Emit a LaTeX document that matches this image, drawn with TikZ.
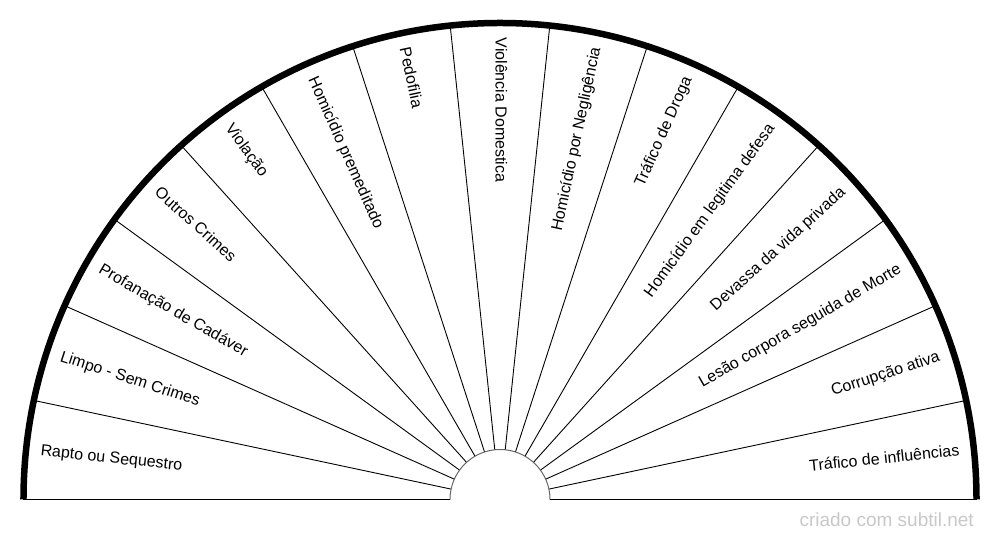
\documentclass[tikz,border=0pt]{standalone}
\usepackage{fontspec}
\setmainfont{Liberation Sans}
\usepackage{xcolor}
\usepackage{tikz}
\usetikzlibrary{positioning,calc}

\definecolor{baseline}{HTML}{808080}
\definecolor{hubline}{HTML}{666666}
\definecolor{markgray}{HTML}{C8C8C8}

\begin{document}
\begin{tikzpicture}[x=1pt, y=1pt,
        wheellabel/.style={inner sep=0pt, font=\fontsize{16}{19}\selectfont, transform shape},
        spoke/.style={black, line width=0.9pt}]
        \useasboundingbox (-500,-40.5) rectangle (500,499.5);
        % spokes between the hub and the rim
        \foreach \a in {12,24,...,168}
            \draw[spoke] (\a:50) -- (\a:476.5);
        \draw[baseline, line width=1.3pt] (-476.5,0) coordinate (rimL) -- (-50,0) coordinate (hubL);
        \draw[baseline, line width=1.3pt] (50,0) coordinate (hubR) -- (476.5,0) coordinate (rimR);
        \draw[hubline, line width=1pt] (hubR) arc[start angle=0, end angle=180, radius=50];
        \draw[black, line width=6.5pt] (rimR) arc[start angle=0, end angle=180, radius=476.5];
        % left half, read towards the hub
        \foreach \lab [count=\i] in {Rapto ou Sequestro, Limpo - Sem Crimes, Profanação de Cadáver, Outros Crimes, Violação, Homicídio premeditado, Pedofilia, Violência Domestica}{
            \pgfmathsetmacro\ang{186-12*\i}
            \begin{scope}[rotate=\ang-180]
                \node[wheellabel, anchor=base west] (lab\i) at (-462,-4.5) {\lab};
            \end{scope}
        }
        % right half, read towards the rim
        \foreach \lab [count=\i] in {Homicídio por Negligência, Tráfico de Droga, Homicídio em legitima defesa, Devassa da vida privada, Lesão corpora seguida de Morte, Corrupção ativa, Tráfico de influências}{
            \pgfmathsetmacro\ang{90-12*\i}
            \begin{scope}[rotate=\ang]
                \node[wheellabel, anchor=base east] (rlab\i) at (462,-4.5) {\lab};
            \end{scope}
        }
        \node[markgray, anchor=base east, inner sep=0pt, font=\fontsize{19}{22}\selectfont] (credit) at (474,-27) {criado com subtil.net};
    \end{tikzpicture}
\end{document}
